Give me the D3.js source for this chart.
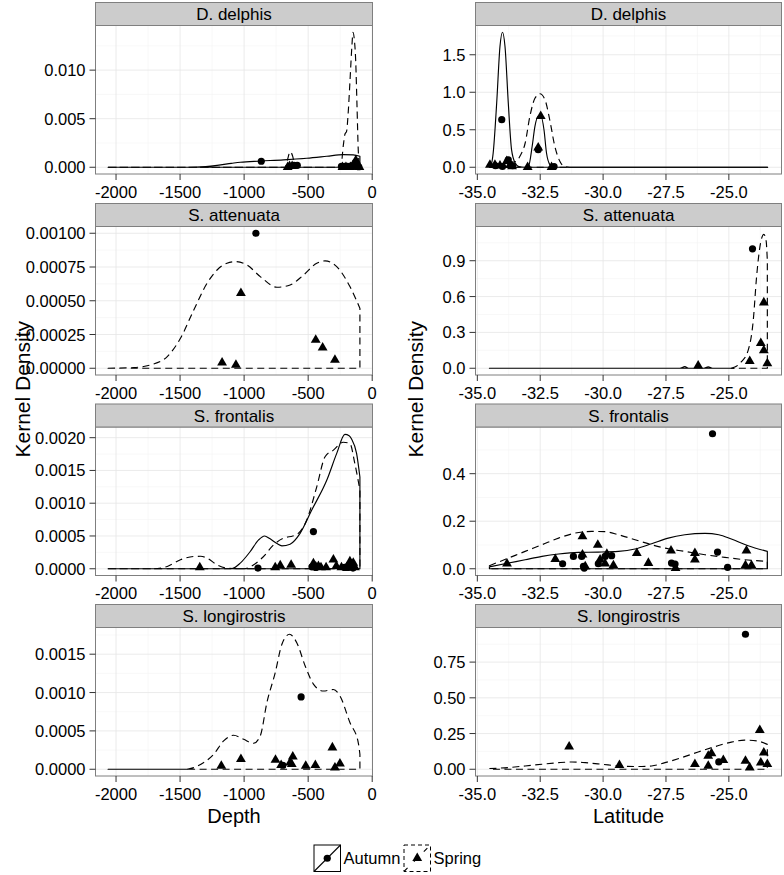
<!DOCTYPE html>
<html><head><meta charset="utf-8">
<script src="https://cdn.jsdelivr.net/npm/d3@7"></script>
<style>body{margin:0;background:#fff;} text{font-family:"Liberation Sans",Arial,Helvetica,sans-serif;}</style>
</head><body>
<svg id="c" width="784" height="875"></svg>
<script>
// ---------- DATA ----------
const species = ["D. delphis", "S. attenuata", "S. frontalis", "S. longirostris"];
const seasons = ["Autumn", "Spring"];
const depthTicks = [-2000, -1500, -1000, -500, 0];
const depthTickLabels = ["-2000", "-1500", "-1000", "-500", "0"];
const latTicks = [-35, -32.5, -30, -27.5, -25];
const latTickLabels = ["-35.0", "-32.5", "-30.0", "-27.5", "-25.0"];
const depthRange = [-2062, -96];
const latRange = [-34.52, -23.46];

// y ticks per panel (depth column, latitude column)
const depthYTicks = [[0, 0.005, 0.010], [0, 0.00025, 0.0005, 0.00075, 0.001], [0, 0.0005, 0.001, 0.0015, 0.002], [0, 0.0005, 0.001, 0.0015]];
const depthYTickLabels = [["0.000", "0.005", "0.010"], ["0.00000", "0.00025", "0.00050", "0.00075", "0.00100"], ["0.0000", "0.0005", "0.0010", "0.0015", "0.0020"], ["0.0000", "0.0005", "0.0010", "0.0015"]];
const latYTicks = [[0, 0.5, 1.0, 1.5], [0, 0.3, 0.6, 0.9], [0, 0.2, 0.4], [0, 0.25, 0.5, 0.75]];
const latYTickLabels = [["0.0", "0.5", "1.0", "1.5"], ["0.0", "0.3", "0.6", "0.9"], ["0.0", "0.2", "0.4"], ["0.00", "0.25", "0.50", "0.75"]];
// data maxima per panel (y extent before expansion)
const depthYMax = [0.0139, 0.001, 0.00206, 0.00176];
const latYMax = [1.80, 1.13, 0.568, 0.945];

// ---- D. delphis ----
const delphisDepthAutumnCurve = [[-2062,0],[-1445,0],[-1300,0.00008],[-1211,0.0002],[-1100,0.0004],[-1030,0.00052],[-874,0.00064],[-693,0.00076],[-511,0.00093],[-355,0.00113],[-226,0.0013],[-148,0.00127],[-96,0.00113]];
const delphisDepthSpringCurve = [[-2062,0],[-680,0],[-661,0.0008],[-641,0.0016],[-620,0.0011],[-602,0],[-245,0],[-226,0.0022],[-213,0.0034],[-200,0.0037],[-188,0.0055],[-173,0.0090],[-158,0.0126],[-150,0.0139],[-140,0.0132],[-129,0.0110],[-118,0.0060],[-109,0.0018],[-100,0.0002],[-96,0]];
const delphisDepthAutumnPts = [[-866,0.00062],[-610,0.0002],[-585,0.0002],[-240,0.0001],[-215,0.0001],[-195,0.0001],[-175,0.0001],[-150,0.0001],[-125,0.0002],[-105,0.00005]];
const delphisDepthSpringPts = [[-660,0],[-645,0.0001],[-625,0.0001],[-232,0],[-205,0],[-170,0],[-150,0.0002],[-138,0.0004],[-128,0.0007],[-115,0.0003],[-100,0]];
const delphisLatAutumnCurve = [[-34.52,0],[-34.45,0.03],[-34.37,0.19],[-34.23,0.86],[-34.1,1.61],[-34.0,1.80],[-33.9,1.61],[-33.77,0.86],[-33.64,0.235],[-33.5,0.06],[-33.35,0.01],[-33.1,0],[-32.97,0.01],[-32.82,0.28],[-32.71,0.545],[-32.58,0.68],[-32.47,0.68],[-32.35,0.5],[-32.25,0.19],[-32.12,0.035],[-32.0,0],[-23.46,0]];
const delphisLatSpringCurve = [[-34.52,0],[-34.1,0],[-33.9,0.05],[-33.75,0.1],[-33.6,0.07],[-33.45,0.08],[-33.3,0.15],[-33.1,0.32],[-32.91,0.68],[-32.71,0.92],[-32.51,0.98],[-32.31,0.9],[-32.12,0.63],[-31.92,0.28],[-31.72,0.08],[-31.52,0.01],[-31.2,0],[-23.46,0]];
const delphisLatAutumnPts = [[-34.03,0.634],[-32.58,0.235],[-34.28,0.02],[-34.0,0.01],[-33.77,0.1],[-33.6,0.02],[-31.95,0.01]];
const delphisLatSpringPts = [[-32.48,0.68],[-32.58,0.26],[-34.5,0.03],[-34.3,0.03],[-34.1,0.02],[-33.83,0.08],[-33.7,0.03],[-33.62,0.01],[-33.0,0],[-32.05,0]];

// ---- S. attenuata ----
const attenuataDepthAutumnCurve = [];
const attenuataDepthSpringCurve = [[-2062,0],[-1860,0.000005],[-1730,0.000025],[-1600,0.000086],[-1497,0.000222],[-1393,0.000432],[-1289,0.00063],[-1211,0.000728],[-1134,0.000778],[-1069,0.00079],[-978,0.000765],[-874,0.000679],[-744,0.0006],[-641,0.000617],[-537,0.00069],[-433,0.000778],[-368,0.000795],[-277,0.000753],[-174,0.000605],[-96,0.000444]];
const attenuataDepthAutumnPts = [[-908,0.001]];
const attenuataDepthSpringPts = [[-1025,0.000556],[-1172,0.000042],[-1064,0.000025],[-441,0.00021],[-387,0.000153],[-291,0.000062]];
const attenuataLatAutumnCurve = [[-34.52,0],[-26.95,0],[-26.75,0.014],[-26.6,0],[-26.0,0],[-25.82,0.012],[-25.65,0],[-24.8,0]];
const attenuataLatSpringCurve = [[-24.9,0],[-24.76,0.01],[-24.5,0.055],[-24.23,0.152],[-24.03,0.40],[-23.9,0.76],[-23.77,1.01],[-23.61,1.12],[-23.52,1.07],[-23.47,0.9]];
const attenuataLatAutumnPts = [[-24.06,1.0]];
const attenuataLatSpringPts = [[-26.22,0.022],[-24.17,0.06],[-23.73,0.21],[-23.61,0.15],[-23.61,0.55],[-23.47,0.04]];

// ---- S. frontalis ----
const frontalisDepthAutumnCurve = [[-2062,0],[-1100,0],[-1030,0.000086],[-952,0.000263],[-887,0.00044],[-840,0.0005],[-800,0.00046],[-744,0.000385],[-705,0.00035],[-641,0.000375],[-563,0.00054],[-472,0.000896],[-355,0.00135],[-277,0.00176],[-213,0.00205],[-180,0.00203],[-161,0.00198],[-122,0.00176],[-96,0.0014]];
const frontalisDepthSpringCurve = [[-2062,0],[-1704,0],[-1600,0.000035],[-1497,0.000137],[-1393,0.000187],[-1340,0.00019],[-1289,0.000162],[-1211,0.00006],[-1134,0.00001],[-1000,0],[-926,0.00006],[-848,0.000187],[-770,0.000365],[-692,0.000466],[-620,0.0005],[-589,0.00052],[-511,0.000744],[-433,0.00125],[-368,0.00171],[-303,0.00181],[-226,0.00193],[-174,0.00191],[-135,0.0016],[-96,0.0012]];
const frontalisDepthAutumnPts = [[-459,0.000567],[-892,0.00001],[-470,0.00003],[-440,0.00002],[-215,0.00002],[-190,0.00002],[-150,0.00001]];
const frontalisDepthSpringPts = [[-1346,0.00002],[-757,0.00002],[-718,0.00005],[-633,0.00006],[-459,0.00008],[-440,0.00003],[-420,0.00004],[-400,0.00002],[-360,0.00002],[-303,0.000137],[-280,0.00004],[-240,0.00002],[-200,0.00002],[-174,0.00011],[-160,0.00006],[-148,0.00009],[-135,0.00002]];
const frontalisLatAutumnCurve = [[-34.52,0.008],[-33.76,0.024],[-33.1,0.038],[-32.43,0.052],[-31.77,0.062],[-30.98,0.069],[-30.19,0.07],[-29.39,0.073],[-28.73,0.083],[-28.07,0.105],[-27.41,0.129],[-26.75,0.143],[-25.95,0.149],[-25.4,0.143],[-24.9,0.125],[-24.23,0.097],[-23.47,0.073]];
const frontalisLatSpringCurve = [[-34.52,0.013],[-33.76,0.045],[-33.1,0.073],[-32.43,0.101],[-31.77,0.129],[-31.11,0.15],[-30.45,0.157],[-29.92,0.156],[-29.39,0.143],[-28.73,0.122],[-28.07,0.101],[-27.41,0.084],[-26.75,0.073],[-25.95,0.059],[-25.16,0.048],[-24.37,0.038],[-23.47,0.031]];
const frontalisLatAutumnPts = [[-25.65,0.568],[-31.61,0.021],[-31.18,0.052],[-30.85,0.052],[-30.78,0.01],[-30.75,0.003],[-30.19,0.021],[-29.92,0.052],[-29.66,0.055],[-27.28,0.024],[-27.14,0.02],[-25.45,0.07],[-25.05,0.006]];
const frontalisLatSpringPts = [[-33.82,0.021],[-31.9,0.04],[-30.82,0.136],[-30.82,0.059],[-30.71,0.01],[-30.21,0.1],[-30.12,0.038],[-29.85,0.062],[-29.92,0.021],[-29.59,0.014],[-28.66,0.066],[-28.2,0.024],[-27.3,0.076],[-27.12,0.003],[-26.35,0.066],[-26.35,0.038],[-24.3,0.076],[-24.34,0.014],[-24.1,0.014]];

// ---- S. longirostris ----
const longirostrisDepthAutumnCurve = [[-2062,0],[-1445,0]];
const longirostrisDepthSpringCurve = [[-1445,0],[-1393,0.0000217],[-1315,0.000087],[-1237,0.000196],[-1160,0.00037],[-1082,0.000443],[-1004,0.00039],[-926,0.000339],[-874,0.000435],[-822,0.00087],[-757,0.00126],[-705,0.00163],[-646,0.00176],[-589,0.00165],[-524,0.00135],[-459,0.00111],[-381,0.00102],[-303,0.00104],[-252,0.000957],[-174,0.000609],[-109,0.000348],[-96,0.000196]];
const longirostrisDepthAutumnPts = [[-555,0.000943],[-698,0.000052]];
const longirostrisDepthSpringPts = [[-1178,0.0000435],[-1025,0.00013],[-755,0.000122],[-711,0.000052],[-641,0.000087],[-620,0.000165],[-628,0.000065],[-519,0.0000435],[-444,0.000052],[-311,0.000283],[-291,0.0000217],[-252,0.000074]];
const longirostrisLatAutumnCurve = [];
const longirostrisLatSpringCurve = [[-34.52,0.005],[-33.76,0.012],[-33.1,0.023],[-32.43,0.035],[-31.77,0.046],[-31.24,0.051],[-30.71,0.046],[-30.05,0.035],[-29.39,0.023],[-28.73,0.019],[-28.07,0.023],[-27.54,0.046],[-26.88,0.081],[-26.22,0.121],[-25.56,0.158],[-24.9,0.19],[-24.37,0.204],[-23.84,0.197],[-23.47,0.174]];
const longirostrisLatAutumnPts = [[-24.34,0.945],[-25.4,0.051]];
const longirostrisLatSpringPts = [[-31.35,0.158],[-29.35,0.028],[-26.35,0.035],[-25.82,0.093],[-25.82,0.023],[-25.69,0.111],[-25.22,0.063],[-24.34,0.058],[-24.17,0.012],[-23.77,0.274],[-23.73,0.046],[-23.61,0.116],[-23.47,0.035]];

// ---------- LAYOUT ----------
const svg = d3.select("#c");
svg.append("rect").attr("width", 784).attr("height", 875).attr("fill", "#fff");
const cols = [{x0: 95.5, x1: 372.5}, {x0: 475.5, x1: 781.5}];
const rowBottoms = [174, 375, 575.5, 776];
const panelH = 148.5, stripH = 23;
const tickFont = 16.5, stripFont = 17, titleFont = 20;

const expand = (lo, hi) => { const d = (hi - lo) * 0.05; return [lo - d, hi + d]; };

const panels = [
  [delphisDepthAutumnCurve, delphisDepthSpringCurve, delphisDepthAutumnPts, delphisDepthSpringPts, delphisLatAutumnCurve, delphisLatSpringCurve, delphisLatAutumnPts, delphisLatSpringPts],
  [attenuataDepthAutumnCurve, attenuataDepthSpringCurve, attenuataDepthAutumnPts, attenuataDepthSpringPts, attenuataLatAutumnCurve, attenuataLatSpringCurve, attenuataLatAutumnPts, attenuataLatSpringPts],
  [frontalisDepthAutumnCurve, frontalisDepthSpringCurve, frontalisDepthAutumnPts, frontalisDepthSpringPts, frontalisLatAutumnCurve, frontalisLatSpringCurve, frontalisLatAutumnPts, frontalisLatSpringPts],
  [longirostrisDepthAutumnCurve, longirostrisDepthSpringCurve, longirostrisDepthAutumnPts, longirostrisDepthSpringPts, longirostrisLatAutumnCurve, longirostrisLatSpringCurve, longirostrisLatAutumnPts, longirostrisLatSpringPts]
];

function minors(ticks, dom) {
  const step = ticks[1] - ticks[0];
  const out = [];
  for (let v = ticks[0] - step / 2; v <= dom[1]; v += step) if (v >= dom[0]) out.push(v);
  return out;
}

function drawPanel(r, c) {
  const col = cols[c];
  const bottom = rowBottoms[r], top = bottom - panelH;
  const xDom = c === 0 ? expand(depthRange[0], depthRange[1]) : expand(latRange[0], latRange[1]);
  const yDom = expand(0, c === 0 ? depthYMax[r] : latYMax[r]);
  const x = d3.scaleLinear().domain(xDom).range([col.x0, col.x1]);
  const y = d3.scaleLinear().domain(yDom).range([bottom, top]);
  const xt = c === 0 ? depthTicks : latTicks;
  const xl = c === 0 ? depthTickLabels : latTickLabels;
  const yt = c === 0 ? depthYTicks[r] : latYTicks[r];
  const yl = c === 0 ? depthYTickLabels[r] : latYTickLabels[r];
  const g = svg.append("g");
  g.append("rect").attr("x", col.x0).attr("y", top).attr("width", col.x1 - col.x0).attr("height", panelH).attr("fill", "#fff");
  // minor grid
  const gm = g.append("g").attr("stroke", "#f4f4f4").attr("stroke-width", 0.6);
  minors(xt, xDom).forEach(v => gm.append("line").attr("x1", x(v)).attr("x2", x(v)).attr("y1", top).attr("y2", bottom));
  minors(yt, yDom).forEach(v => gm.append("line").attr("y1", y(v)).attr("y2", y(v)).attr("x1", col.x0).attr("x2", col.x1));
  const gM = g.append("g").attr("stroke", "#e6e6e6").attr("stroke-width", 0.8);
  xt.filter(v => v >= xDom[0] && v <= xDom[1]).forEach(v => gM.append("line").attr("x1", x(v)).attr("x2", x(v)).attr("y1", top).attr("y2", bottom));
  yt.forEach(v => gM.append("line").attr("y1", y(v)).attr("y2", y(v)).attr("x1", col.x0).attr("x2", col.x1));

  // curves
  const [aC, sC, aP, sP] = c === 0 ? panels[r].slice(0, 4) : panels[r].slice(4, 8);
  const line = d3.line().x(d => x(d[0])).y(d => y(d[1])).curve(d3.curveMonotoneX);
  [[aC, null], [sC, "7,4.5"]].forEach(([data, dash]) => {
    if (!data.length) return;
    const last = data[data.length - 1], first = data[0];
    const d = line(data) + `L${x(last[0])},${y(0)}L${x(first[0])},${y(0)}Z`;
    g.append("path").attr("d", d).attr("fill", "none").attr("stroke", "#000").attr("stroke-width", 1.15)
      .attr("stroke-dasharray", dash).attr("stroke-linejoin", "round");
  });
  // points
  g.selectAll(null).data(aP).join("circle").attr("cx", d => x(d[0])).attr("cy", d => y(d[1])).attr("r", 3.6).attr("fill", "#000");
  const tri = d3.symbol().type(d3.symbolTriangle).size(42);
  g.selectAll(null).data(sP).join("path").attr("d", tri).attr("transform", d => `translate(${x(d[0])},${y(d[1])})`).attr("fill", "#000");

  // border
  g.append("rect").attr("x", col.x0).attr("y", top).attr("width", col.x1 - col.x0).attr("height", panelH).attr("fill", "none").attr("stroke", "#7f7f7f").attr("stroke-width", 1);
  // strip
  g.append("rect").attr("x", col.x0).attr("y", top - stripH).attr("width", col.x1 - col.x0).attr("height", stripH).attr("fill", "#cccccc").attr("stroke", "#7f7f7f").attr("stroke-width", 1);
  g.append("text").attr("x", (col.x0 + col.x1) / 2).attr("y", top - stripH / 2 + 6).attr("text-anchor", "middle").attr("font-size", stripFont).attr("fill", "#000").text(species[r]);

  // axes
  const gx = g.append("g");
  xt.forEach((v, i) => {
    gx.append("line").attr("x1", x(v)).attr("x2", x(v)).attr("y1", bottom).attr("y2", bottom + 6).attr("stroke", "#333").attr("stroke-width", 1);
    gx.append("text").attr("x", x(v)).attr("y", bottom + 23.5).attr("text-anchor", "middle").attr("font-size", tickFont).attr("fill", "#000").text(xl[i]);
  });
  yt.forEach((v, i) => {
    gx.append("line").attr("x1", col.x0 - 6).attr("x2", col.x0).attr("y1", y(v)).attr("y2", y(v)).attr("stroke", "#333").attr("stroke-width", 1);
    gx.append("text").attr("x", col.x0 - 10).attr("y", y(v) + 6).attr("text-anchor", "end").attr("font-size", tickFont).attr("fill", "#000").text(yl[i]);
  });
}

for (let r = 0; r < 4; r++) for (let c = 0; c < 2; c++) drawPanel(r, c);

// axis titles
const midY = (rowBottoms[0] - panelH - stripH + rowBottoms[3]) / 2;
[["Kernel Density", 30], ["Kernel Density", 423]].forEach(([t, xx]) => {
  svg.append("text").attr("transform", `translate(${xx},${midY}) rotate(-90)`).attr("text-anchor", "middle").attr("font-size", 21).attr("fill", "#000").text(t);
});
svg.append("text").attr("x", (cols[0].x0 + cols[0].x1) / 2).attr("y", 823).attr("text-anchor", "middle").attr("font-size", titleFont).attr("fill", "#000").text("Depth");
svg.append("text").attr("x", (cols[1].x0 + cols[1].x1) / 2).attr("y", 823).attr("text-anchor", "middle").attr("font-size", titleFont).attr("fill", "#000").text("Latitude");

// legend
const legend = svg.append("g");
const keyS = 26.5, keyY = 845;
const keyX = [314, 404];
seasons.forEach((s, i) => {
  const kx = keyX[i];
  const dash = i === 0 ? null : "4,3";
  const kg = legend.append("g");
  kg.append("rect").attr("x", kx).attr("y", keyY).attr("width", keyS).attr("height", keyS).attr("fill", "#fff").attr("stroke", "#000").attr("stroke-width", 1).attr("stroke-dasharray", dash);
  kg.append("line").attr("x1", kx).attr("y1", keyY + keyS).attr("x2", kx + keyS).attr("y2", keyY).attr("stroke", "#000").attr("stroke-width", 1.1).attr("stroke-dasharray", i === 0 ? null : "5,9");
  if (i === 0) kg.append("circle").attr("cx", kx + keyS / 2).attr("cy", keyY + keyS / 2).attr("r", 3.6).attr("fill", "#000");
  else kg.append("path").attr("d", d3.symbol().type(d3.symbolTriangle).size(42)).attr("transform", `translate(${kx + keyS / 2},${keyY + keyS / 2})`).attr("fill", "#000");
  kg.append("text").attr("x", kx + keyS + 3).attr("y", keyY + keyS / 2 + 6).attr("font-size", 16.5).attr("fill", "#000").text(s);
});
</script>
</body></html>
